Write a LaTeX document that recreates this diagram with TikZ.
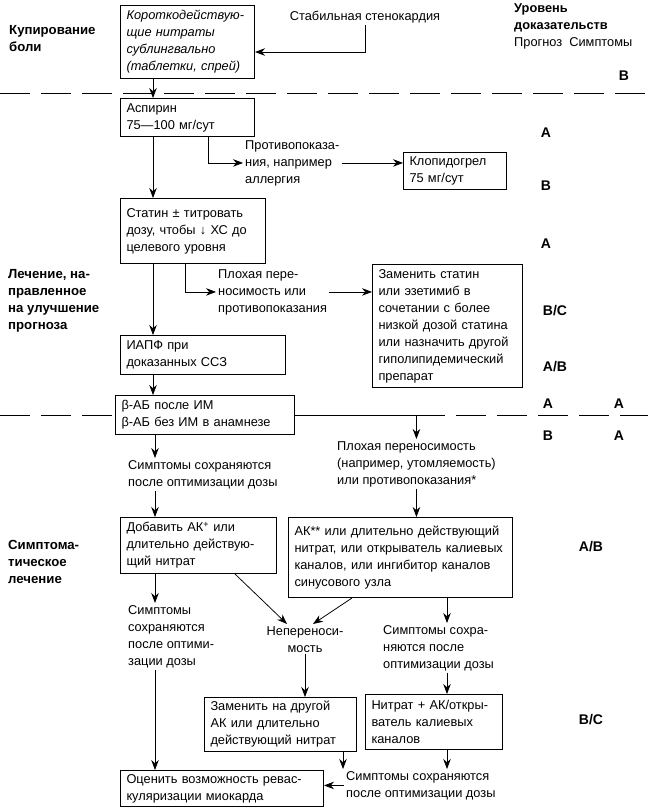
\documentclass[tikz,border=0pt]{standalone}
\usepackage{fontspec}
\setmainfont{Liberation Sans}
\usetikzlibrary{arrows.meta,positioning,calc}

\begin{document}
\begin{tikzpicture}[x=1pt,y=-1pt,
  font=\fontsize{12.8}{17}\selectfont,
  box/.style={draw,line width=1pt,align=left,anchor=north west,inner xsep=6pt,inner ysep=2pt},
  txt/.style={align=left,anchor=north west,inner sep=2pt},
  lbl/.style={align=left,anchor=north west,inner sep=0pt,font=\fontsize{13.2}{17}\selectfont\bfseries},
  lev/.style={inner sep=0pt,font=\fontsize{14}{15}\selectfont\bfseries},
  arr/.style={-{Stealth[length=10pt,width=7.5pt]},line width=0.75pt},
  dashline/.style={line width=0.9pt,dash pattern=on 30pt off 11pt}]
\useasboundingbox (0,0) rectangle (648,812);

\node[lbl] (kup) at (9,25) {Купирование\\боли};
\node[lbl] (lech) at (8,269) {Лечение, на-\\правленное\\на улучшение\\прогноза};
\node[lbl] (simpl) at (8,540) {Симптома-\\тическое\\лечение};
\node[txt,inner sep=0pt] (urov) at (514,3) {{\bfseries Уровень}\\{\bfseries доказательств}\\Прогноз\ \ Симптомы};

\node[box,text width=122pt,minimum height=73pt,font=\fontsize{12.8}{17}\selectfont\itshape] (nitr) at (120,5) {Короткодействую-\\щие нитраты\\сублингвально\\(таблетки, спрей)};
\node[txt,anchor=center] (stab) at (365,17) {Стабильная стенокардия};
\node[box,text width=122pt,minimum height=38pt] (asp) at (120,98) {Аспирин\\75—100 мг/сут};
\node[txt] (protiv) at (243,138) {Противопоказа-\\ния, например\\аллергия};
\node[box,text width=91pt,minimum height=37pt] (clop) at (403,152) {Клопидогрел\\75 мг/сут};
\node[box,text width=133pt,minimum height=65pt] (stat) at (120,198) {Статин ± титровать\\дозу, чтобы ↓ ХС до\\целевого уровня};
\node[txt] (plox1) at (216,267) {Плохая пере-\\носимость или\\противопоказания};
\node[box,text width=138pt,minimum height=123pt] (zam) at (372,264) {Заменить статин\\или эзетимиб в\\сочетании с более\\низкой дозой статина\\или назначить другой\\гиполипидемический\\препарат};
\node[box,text width=153pt,minimum height=39pt] (iapf) at (120,335) {ИАПФ при\\доказанных ССЗ};
\node[box,text width=167pt,minimum height=39pt] (bab) at (115,395) {β-АБ после ИМ\\β-АБ без ИМ в анамнезе};
\node[txt] (simp1) at (126,458) {Симптомы сохраняются\\после оптимизации дозы};
\node[txt] (plox2) at (335,439) {Плохая переносимость\\(например, утомляемость)\\или противопоказания*};
\node[box,text width=144pt,minimum height=56pt] (dob) at (120,517) {Добавить АК\textsuperscript{+} или\\длительно действую-\\щий нитрат};
\node[box,text width=212pt,minimum height=80pt] (akk) at (288,517) {АК** или длительно действующий\\нитрат, или открыватель калиевых\\каналов, или ингибитор каналов\\синусового узла};
\node[txt] (simp2) at (126,603) {Симптомы\\сохраняются\\после оптими-\\зации дозы};
\node[txt,align=center,anchor=north] (nep) at (305,624) {Непереноси-\\мость};
\node[txt] (simp3) at (381,623) {Симптомы сохра-\\няются после\\оптимизации дозы};
\node[box,text width=140pt,minimum height=54pt] (zamak) at (204,697) {Заменить на другой\\АК или длительно\\действующий нитрат};
\node[box,text width=125pt,minimum height=55pt] (nitrak) at (365,694) {Нитрат + АК/откры-\\ватель калиевых\\каналов};
\node[txt] (simp4) at (344,769) {Симптомы сохраняются\\после оптимизации дозы};
\node[box,text width=191pt,minimum height=36pt] (ocen) at (120,770) {Оценить возможность ревас-\\куляризации миокарда};

\node[lev] (lv1) at (624,76) {B};
\node[lev] (lv2) at (546,133) {A};
\node[lev] (lv3) at (546,186) {B};
\node[lev] (lv4) at (546,244) {A};
\node[lev] (lv5) at (555,311) {B/C};
\node[lev] (lv6) at (555,367) {A/B};
\node[lev] (lv7) at (548,404) {A};
\node[lev] (lv8) at (619,404) {A};
\node[lev] (lv9) at (548,436) {B};
\node[lev] (lv10) at (619,436) {A};
\node[lev] (lv11) at (591,547) {A/B};
\node[lev] (lv12) at (591,720) {B/C};

\draw[dashline] (0,93) -- (648,93);
\draw[dashline] (0,415) -- (bab.west);
\draw[dashline] (415,415) -- (648,415);

\draw[arr] (stab.south) |- ([yshift=-10pt]nitr.east);
\draw[arr] ([xshift=33pt]nitr.south west) -- ([xshift=33pt]asp.north west);
\draw[arr] ([xshift=33pt]asp.south west) -- ([xshift=33pt]stat.north west);
\draw[arr] ([xshift=88pt]asp.south west) |- (protiv.west);
\draw[arr] (protiv.east) -- (protiv.east -| clop.west);
\draw[arr] ([xshift=33pt]stat.south west) -- ([xshift=33pt]iapf.north west);
\draw[arr] ([xshift=65pt]stat.south west) |- (plox1.west);
\draw[arr] (plox1.east) -- (plox1.east -| zam.west);
\draw[arr] ([xshift=33pt]iapf.south west) -- ([xshift=33pt]iapf.south west |- bab.north);
\draw[arr] (bab.east) -| (plox2.north);
\draw[arr] ([xshift=40pt]bab.south west) -- ([xshift=40pt]bab.south west |- simp1.north);
\draw[arr] ([xshift=35pt]dob.north west |- simp1.south) -- ([xshift=35pt]dob.north west);
\draw[arr] (plox2.south) -- (plox2.south |- akk.north);
\draw[arr] ([xshift=35pt]dob.south west) -- ([xshift=35pt]dob.south west |- simp2.north);
\draw[arr] ([xshift=115pt]dob.south west) -- ([xshift=-18pt]nep.north);
\draw[arr] ([xshift=64pt]akk.south west) -- ([xshift=8pt]nep.north);
\draw[arr] ([xshift=159pt]akk.south west) -- ([xshift=159pt]akk.south west |- simp3.north);
\draw[arr] ([xshift=82pt]nitrak.north west |- simp3.south) -- ([xshift=82pt]nitrak.north west);
\draw[arr] (nep.south) -- (nep.south |- zamak.north);
\draw[arr] ([xshift=35pt]ocen.north west |- simp2.south) -- ([xshift=35pt]ocen.north west);
\draw[arr] ([xshift=139pt]zamak.south west) -- ([xshift=139pt]zamak.south west |- simp4.north);
\draw[arr] ([xshift=82pt]nitrak.south west) -- ([xshift=82pt]nitrak.south west |- simp4.north);
\draw[arr] (simp4.west) -- (simp4.west -| ocen.east);
\end{tikzpicture}
\end{document}
